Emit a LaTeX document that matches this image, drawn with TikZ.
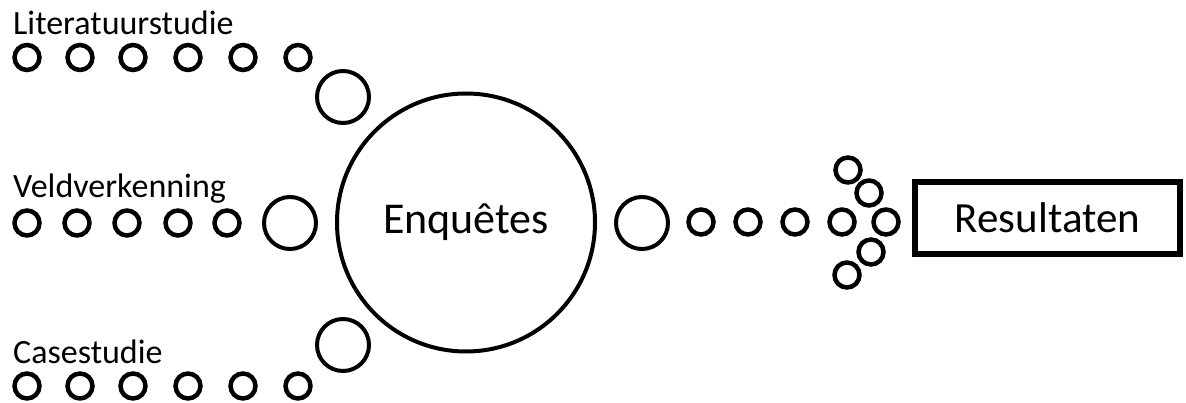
\documentclass[tikz,border=0pt]{standalone}
\usepackage{fontspec}
\setmainfont{Carlito}
\usetikzlibrary{positioning}

\begin{document}
\begin{tikzpicture}[x=1pt, y=-1pt,
    bigfont/.style={font=\fontsize{43}{48}\selectfont},
    labelfont/.style={font=\fontsize{34}{38}\selectfont, inner sep=0pt, anchor=base west},
    dot/.style={line width=4.5pt},
    ring/.style={line width=4pt}]
        \useasboundingbox (0,0) rectangle (1186,403);
        \node[circle, draw, ring, minimum size=258pt, inner sep=0pt, font=\fontsize{44}{48}\selectfont] (enquetes) at (466,222.5) {Enquêtes};
        \node[draw, line width=6.5pt, minimum width=265pt, minimum height=72pt, inner sep=0pt, bigfont] (resultaten) at (1047.5,218) {Resultaten};
        \node[labelfont] (literatuur) at (13,35) {Literatuurstudie};
        \node[labelfont] (veld) at (13,198) {Veldverkenning};
        \node[labelfont] (case) at (13,363) {Casestudie};
        \foreach \x in {27,80,133,188,243,298}
          {\draw[dot] (\x,57.5) circle (12.5pt); \draw[dot] (\x,386) circle (12.5pt);}
        \foreach \x in {27,77,127,178,227}
          {\draw[dot] (\x,223) circle (12.5pt);}
        \foreach \x/\y in {343/97, 290/223, 343/345, 642/223}
          {\draw[ring] (\x,\y) circle (26pt);}
        \foreach \x/\y in {701/222, 748/222, 795/222, 842/222, 886/222, 848/170, 869/193, 871/252, 847/275}
          {\draw[dot] (\x,\y) circle (12.5pt);}
      \end{tikzpicture}
\end{document}
